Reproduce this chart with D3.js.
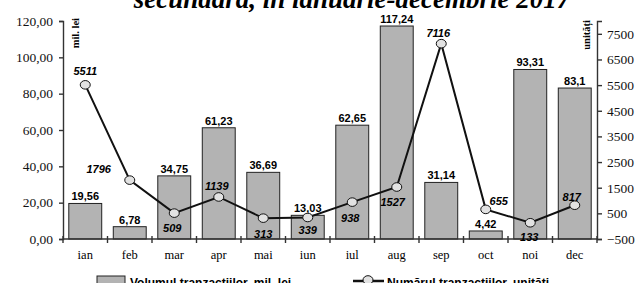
<!DOCTYPE html>
<html lang="en">
<head>
<meta charset="utf-8">
<title>Tranzactii piata secundara 2017</title>
<script src="https://cdn.jsdelivr.net/npm/d3@7/dist/d3.min.js"></script>
<style>
body { margin: 0; background: #fff; }
</style>
</head>
<body>
<script>
// data
var months = ["ian", "feb", "mar", "apr", "mai", "iun", "iul", "aug", "sep", "oct", "noi", "dec"];
var volume = [19.56, 6.78, 34.75, 61.23, 36.69, 13.03, 62.65, 117.24, 31.14, 4.42, 93.31, 83.1];
var volumeLabels = ["19,56", "6,78", "34,75", "61,23", "36,69", "13,03", "62,65", "117,24", "31,14", "4,42", "93,31", "83,1"];
var count = [5511, 1796, 509, 1139, 313, 339, 938, 1527, 7116, 655, 133, 817];
var leftTicks = [0, 20, 40, 60, 80, 100, 120];
var rightTicks = [-500, 500, 1500, 2500, 3500, 4500, 5500, 6500, 7500];

// where each count label sits relative to its point
var countLabelPos = [[0, -14], [-31, -11], [-2, 15], [-2, -11], [0, 16], [0, 13], [-2, 16], [-4, 15], [-3, -11], [13, -8], [-1, 14], [-3, -8]];

var W = 637, H = 283;
var svg = d3.select("body").append("svg").attr("width", W).attr("height", H);

var x0 = 63, x1 = 597, yBase = 239, yTop = 21;

var x = d3.scaleBand().domain(months).range([x0, x1]).paddingInner(0.26).paddingOuter(0.13);
var xb = d3.scaleBand().domain(months).range([x0, x1]);
var yL = d3.scaleLinear().domain([0, 120]).range([yBase, yTop]);
var yR = d3.scaleLinear().domain([-500, 8000]).range([yBase, yTop]);

var axisColor = "#333";
var serif = "'Liberation Serif', 'Times New Roman', serif";
var sans = "'Liberation Sans', Arial, sans-serif";

// title (partly cut off at the top)
svg.append("text")
  .attr("x", 352).attr("y", 8)
  .attr("text-anchor", "middle")
  .style("font-family", serif).style("font-weight", "bold").style("font-style", "italic")
  .style("font-size", "27px")
  .text("secundară, în ianuarie-decembrie 2017");

// bars
svg.selectAll("rect.bar").data(volume).enter().append("rect")
  .attr("class", "bar")
  .attr("x", function(d, i) { return x(months[i]); })
  .attr("y", function(d) { return yL(d); })
  .attr("width", x.bandwidth())
  .attr("height", function(d) { return yBase - yL(d); })
  .style("fill", "#b3b3b3").style("stroke", "#222").style("stroke-width", 1);

// left axis
var axL = d3.axisLeft(yL).tickValues(leftTicks).tickSize(4).tickPadding(6)
  .tickFormat(function(d) { return d3.format(".2f")(d).replace(".", ","); });
var gL = svg.append("g").attr("transform", "translate(" + x0 + ",0)").call(axL);

// right axis
var axR = d3.axisRight(yR).tickValues(rightTicks).tickSize(5).tickPadding(5).tickFormat(d3.format("d"));
var gR = svg.append("g").attr("transform", "translate(" + x1 + ",0)").call(axR);

[gL, gR].forEach(function(g) {
  g.select(".domain").attr("stroke", axisColor).attr("stroke-width", 1.4);
  g.selectAll(".tick line").attr("stroke", axisColor).attr("stroke-width", 1.4);
  g.selectAll(".tick text").attr("fill", "#111").style("font-family", serif).style("font-size", "13.5px");
});

// x axis with ticks between months
svg.append("line").attr("x1", x0).attr("x2", x1).attr("y1", yBase).attr("y2", yBase)
  .attr("stroke", axisColor).attr("stroke-width", 1.4);
var bounds = months.map(function(m) { return xb(m); }).concat([x1]);
svg.selectAll("line.xtick").data(bounds).enter().append("line")
  .attr("class", "xtick")
  .attr("x1", function(d) { return d; }).attr("x2", function(d) { return d; })
  .attr("y1", yBase - 3).attr("y2", yBase + 4)
  .attr("stroke", axisColor).attr("stroke-width", 1.4);
svg.selectAll("text.month").data(months).enter().append("text")
  .attr("class", "month")
  .attr("x", function(d) { return xb(d) + xb.bandwidth() / 2; })
  .attr("y", 259)
  .attr("text-anchor", "middle")
  .style("font-family", serif).style("font-size", "12.5px")
  .text(function(d) { return d; });

// axis unit labels
svg.append("text").attr("transform", "translate(79,18) rotate(-90)")
  .attr("text-anchor", "end")
  .style("font-family", serif).style("font-weight", "bold").style("font-size", "10.5px")
  .text("mil. lei");
svg.append("text").attr("transform", "translate(590,20) rotate(-90)")
  .attr("text-anchor", "end")
  .style("font-family", serif).style("font-weight", "bold").style("font-size", "10.5px")
  .text("unități");

// line
var cx = function(i) { return xb(months[i]) + xb.bandwidth() / 2; };
var line = d3.line().x(function(d, i) { return cx(i); }).y(function(d) { return yR(d); });
svg.append("path").datum(count).attr("d", line)
  .attr("fill", "none").attr("stroke", "#111").attr("stroke-width", 2);
svg.selectAll("ellipse.pt").data(count).enter().append("ellipse")
  .attr("class", "pt")
  .attr("cx", function(d, i) { return cx(i); })
  .attr("cy", function(d) { return yR(d); })
  .attr("rx", 5).attr("ry", 4.3)
  .style("fill", "#e2e2e2").style("stroke", "#111").style("stroke-width", 1);

// bar labels
svg.selectAll("text.vlab").data(volume).enter().append("text")
  .attr("class", "vlab")
  .attr("x", function(d, i) { return cx(i); })
  .attr("y", function(d) { return yL(d) - 3; })
  .attr("text-anchor", "middle")
  .style("font-family", sans).style("font-weight", "bold").style("font-size", "11px")
  .text(function(d, i) { return volumeLabels[i]; });

// count labels
svg.selectAll("text.clab").data(count).enter().append("text")
  .attr("class", "clab")
  .attr("x", function(d, i) { return cx(i) + countLabelPos[i][0]; })
  .attr("y", function(d, i) { return yR(d) + countLabelPos[i][1]; })
  .attr("text-anchor", "middle")
  .attr("dy", "0.35em")
  .style("font-family", sans).style("font-weight", "bold").style("font-style", "italic")
  .style("font-size", "11px")
  .text(function(d) { return d; });

// legend (cut off at the bottom)
var lg = svg.append("g");
lg.append("rect").attr("x", 97).attr("y", 276).attr("width", 28).attr("height", 12)
  .style("fill", "#b3b3b3").style("stroke", "#222").style("stroke-width", 1);
lg.append("text").attr("x", 130).attr("y", 287)
  .style("font-family", sans).style("font-weight", "bold").style("font-size", "12px")
  .text("Volumul tranzacțiilor, mil. lei");
lg.append("line").attr("x1", 353).attr("x2", 384).attr("y1", 281).attr("y2", 281)
  .attr("stroke", "#111").attr("stroke-width", 2.5);
lg.append("ellipse").attr("cx", 368).attr("cy", 280).attr("rx", 5).attr("ry", 4.3)
  .style("fill", "#e2e2e2").style("stroke", "#111").style("stroke-width", 1);
lg.append("text").attr("x", 387).attr("y", 287)
  .style("font-family", sans).style("font-weight", "bold").style("font-size", "12px")
  .text("Numărul tranzacțiilor, unități");
</script>
</body>
</html>
